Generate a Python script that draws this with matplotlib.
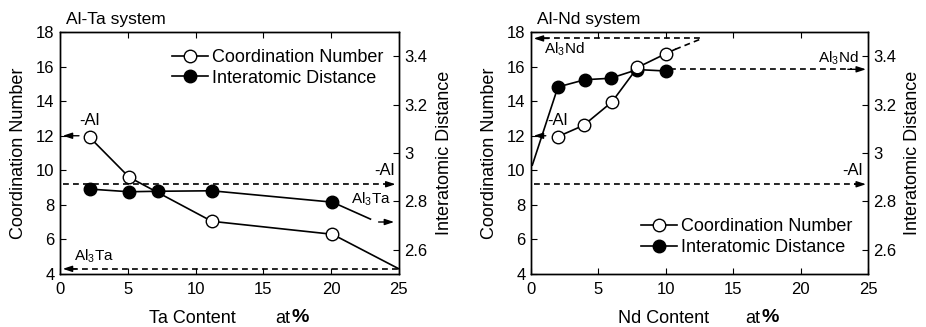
"""Coordination number and interatomic distance for Al-Ta and Al-Nd systems."""

import matplotlib

matplotlib.use("Agg")
import matplotlib.pyplot as plt

plt.rcParams["font.family"] = ["Liberation Sans", "DejaVu Sans"]
plt.rcParams["mathtext.fontset"] = "custom"
plt.rcParams["mathtext.rm"] = "Liberation Sans"
plt.rcParams["mathtext.it"] = "Liberation Sans:italic"

# Al-Ta system
ta_cn_x = [2.2, 5.1, 11.2, 20.1]
ta_cn = [11.9, 9.6, 7.05, 6.3]
ta_dist_x = [2.2, 5.1, 7.2, 11.2, 20.1]
ta_dist = [2.851, 2.840, 2.842, 2.844, 2.797]
ta_cn_ext_x = [20.1, 25.0]
ta_cn_ext = [6.3, 4.3]
ta_dist_ext_x = [20.1, 22.9]
ta_dist_ext = [2.797, 2.727]

# Al-Nd system
nd_cn_x = [2.0, 3.9, 6.0, 7.9, 10.0]
nd_cn = [11.95, 12.6, 13.95, 15.95, 16.75]
nd_dist_x = [2.0, 4.0, 5.9, 7.9, 10.0]
nd_dist = [3.273, 3.303, 3.309, 3.345, 3.339]
nd_dist_ext_x = [0.1, 2.0]
nd_dist_ext = [2.95, 3.273]
nd_cn_ext_x = [10.0, 10.7]
nd_cn_ext = [16.75, 17.0]
nd_cn_dash_x = [10.7, 12.7]
nd_cn_dash = [17.0, 17.63]

# reference values
al_cn = 12.0
al_dist = 2.871
al3ta_cn = 4.3
al3ta_dist = 2.715
al3nd_cn = 17.63
al3nd_dist = 3.346

x_ticks = [0, 5, 10, 15, 20, 25]
cn_ticks = [4, 6, 8, 10, 12, 14, 16, 18]
dist_ticks = [2.6, 2.8, 3.0, 3.2, 3.4]
dist_labels = ["2.6", "2.8", "3", "3.2", "3.4"]

DASH = (0, (3.5, 2.5))
ARROW = dict(arrowstyle="-|>,head_length=0.55,head_width=0.18", color="black", lw=1.0,
             shrinkA=0, shrinkB=0)


def arrow(ax, x0, x1, y):
    ax.annotate("", xy=(x1, y), xytext=(x0, y), arrowprops=ARROW)


def setup_axes(fig, rect, title, element):
    ax = fig.add_axes(rect)
    ax2 = ax.twinx()
    ax.set_zorder(ax2.get_zorder() + 1)
    ax.patch.set_visible(False)

    ax.set_xlim(0, 25)
    ax.set_ylim(4, 18)
    ax2.set_ylim(2.5, 3.5)
    ax.set_xticks(x_ticks)
    ax.set_yticks(cn_ticks)
    ax2.set_yticks(dist_ticks)
    ax2.set_yticklabels(dist_labels)
    ax.tick_params(direction="in", top=True, right=False, length=4, labelsize=12, pad=4)
    ax.tick_params(axis="x", pad=6)
    ax2.tick_params(direction="in", length=4, labelsize=12, pad=4)
    for a in (ax, ax2):
        for s in a.spines.values():
            s.set_linewidth(1.0)

    ax.set_ylabel("Coordination Number", fontsize=13)
    ax2.set_ylabel("Interatomic Distance", fontsize=13)
    ax.yaxis.set_label_coords(-0.097, 0.5)
    ax2.yaxis.set_label_coords(1.108, 0.5)
    ax.text(0.018, 1.02, title, transform=ax.transAxes, fontsize=12.5, va="bottom")

    ax.text(0.392, -0.182, f"{element} Content", transform=ax.transAxes, fontsize=13,
            ha="center", va="center")
    ax.text(0.68, -0.182, "at", transform=ax.transAxes, fontsize=13, ha="right", va="center")
    ax.text(0.684, -0.178, "%", transform=ax.transAxes, fontsize=14, fontweight="bold",
            ha="left", va="center")
    return ax, ax2


def series(ax, ax2, cn_x, cn, dist_x, dist):
    h2, = ax2.plot(dist_x, dist, "-o", color="black", lw=1.2, ms=9,
                   mfc="black", mec="black", label="Interatomic Distance")
    h1, = ax.plot(cn_x, cn, "-o", color="black", lw=1.2, ms=9,
                  mfc="white", mec="black", mew=1.0, label="Coordination Number")
    return [h1, h2]


fig = plt.figure(figsize=(9.26, 3.27), dpi=100)

# ---- Al-Ta panel
ax, ax2 = setup_axes(fig, [0.0648, 0.162, 0.366, 0.740], "Al-Ta system", "Ta")
ax.plot(ta_cn_ext_x, ta_cn_ext, color="black", lw=1.2)
ax2.plot(ta_dist_ext_x, ta_dist_ext, color="black", lw=1.2)
handles = series(ax, ax2, ta_cn_x, ta_cn, ta_dist_x, ta_dist)

ax2.plot([0.2, 24.2], [al_dist, al_dist], color="black", lw=1.2, linestyle=DASH)
arrow(ax2, 24.0, 24.75, al_dist)
ax.plot([0.9, 25.0], [al3ta_cn, al3ta_cn], color="black", lw=1.2, linestyle=DASH)
arrow(ax, 1.2, 0.2, al3ta_cn)
arrow(ax, 1.4, 0.2, al_cn)
arrow(ax2, 23.5, 24.65, al3ta_dist)

ax.text(2.2, 12.45, "-Al", fontsize=12, ha="center", va="bottom")
ax.text(24.7, 9.55, "-Al", fontsize=12, ha="right", va="bottom")
ax.text(24.4, 8.3, "Al$_3$Ta", fontsize=11, ha="right", va="center")
ax.text(1.0, 4.55, "Al$_3$Ta", fontsize=11, ha="left", va="bottom")

ax.legend(handles=handles, loc="upper right", bbox_to_anchor=(0.985, 0.975), frameon=False,
          fontsize=13, handlelength=2.0, handletextpad=0.2, borderaxespad=0.2,
          labelspacing=0.2)

# ---- Al-Nd panel
ax, ax2 = setup_axes(fig, [0.5734, 0.162, 0.364, 0.740], "Al-Nd system", "Nd")
ax2.plot(nd_dist_ext_x, nd_dist_ext, color="black", lw=1.2)
ax.plot(nd_cn_ext_x, nd_cn_ext, color="black", lw=1.2)
ax.plot(nd_cn_dash_x, nd_cn_dash, color="black", lw=1.2, linestyle=DASH)
handles = series(ax, ax2, nd_cn_x, nd_cn, nd_dist_x, nd_dist)

ax.plot([1.0, 12.7], [al3nd_cn, al3nd_cn], color="black", lw=1.2, linestyle=DASH)
arrow(ax, 1.3, 0.2, al3nd_cn)
ax2.plot([10.3, 23.8], [al3nd_dist, al3nd_dist], color="black", lw=1.2, linestyle=DASH)
arrow(ax2, 23.5, 24.85, al3nd_dist)
ax2.plot([0.2, 24.2], [al_dist, al_dist], color="black", lw=1.2, linestyle=DASH)
arrow(ax2, 24.0, 24.85, al_dist)
arrow(ax, 1.1, 0.2, al_cn)

ax.text(1.0, 17.0, "Al$_3$Nd", fontsize=11, ha="left", va="center")
ax.text(24.3, 16.5, "Al$_3$Nd", fontsize=11, ha="right", va="center")
ax.text(24.6, 9.55, "-Al", fontsize=12, ha="right", va="bottom")
ax.text(2.0, 12.45, "-Al", fontsize=12, ha="center", va="bottom")

ax.legend(handles=handles, loc="lower right", bbox_to_anchor=(0.985, 0.03), frameon=False,
          fontsize=13, handlelength=2.0, handletextpad=0.2, borderaxespad=0.2,
          labelspacing=0.2)

fig.savefig("out.png", dpi=100)
